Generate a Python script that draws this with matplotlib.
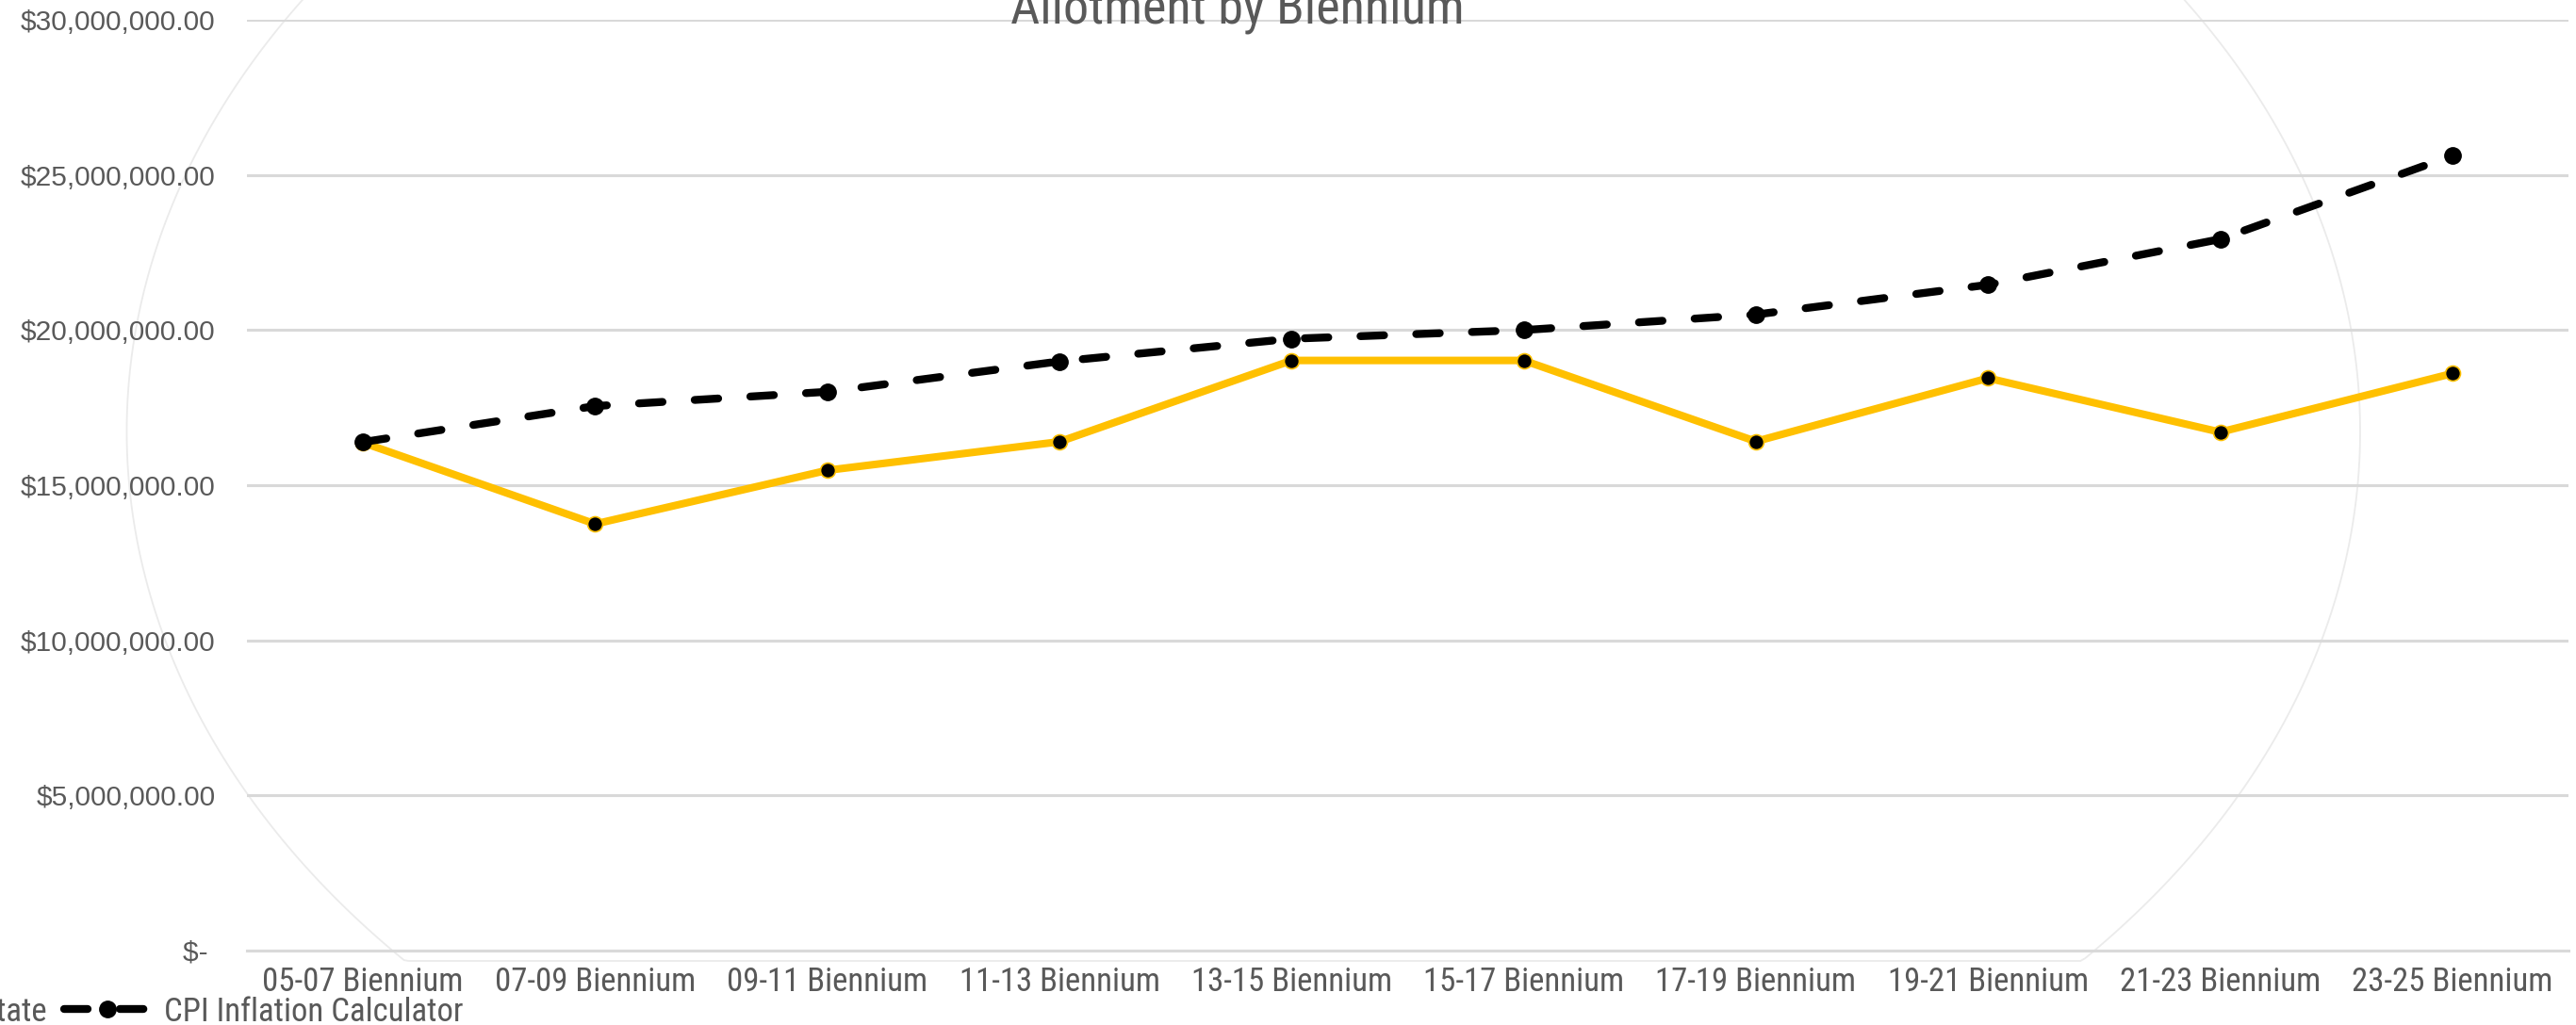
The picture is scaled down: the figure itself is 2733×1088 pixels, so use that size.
import matplotlib
matplotlib.use("Agg")
import matplotlib.pyplot as plt
import numpy as np
from matplotlib import font_manager
from matplotlib.font_manager import FontProperties
from matplotlib.patches import Polygon
from matplotlib.ticker import FuncFormatter, MultipleLocator

# data
bienniums = ["05-07 Biennium", "07-09 Biennium", "09-11 Biennium", "11-13 Biennium", "13-15 Biennium",
             "15-17 Biennium", "17-19 Biennium", "19-21 Biennium", "21-23 Biennium", "23-25 Biennium"]
state_allotment = [16.37e6, 13.75e6, 15.48e6, 16.40e6, 19.02e6, 19.02e6, 16.41e6, 18.45e6, 16.71e6, 18.60e6]
cpi_adjusted = [16.39e6, 17.55e6, 18.01e6, 18.99e6, 19.72e6, 20.00e6, 20.50e6, 21.46e6, 22.93e6, 25.62e6]
series_labels = ["State", "CPI Inflation Calculator"]
title = "Allotment by Biennium"

GOLD = "#FFC000"
TEXT = "#595959"
GRID = "#d9d9d9"


def find_narrow_font():
    # look for any regular condensed / narrow face on the system
    files = sorted({f.fname for f in font_manager.fontManager.ttflist})
    for key in ["LiberationSansNarrow-Regular", "RobotoCondensed-Regular", "DejaVuSansCondensed.ttf",
                "OpenSans_Condensed-Regular", "Condensed-Regular", "Narrow-Regular"]:
        for fn in files:
            if key in fn.replace(" ", ""):
                return fn
    return None


narrow_file = find_narrow_font()
if narrow_file:
    narrow_prop = lambda size: FontProperties(fname=narrow_file, size=size)
    shrink = 1.0
else:
    narrow_prop = lambda size: FontProperties(family="Liberation Sans", size=size)
    shrink = 0.88

W, H = 2733, 1088
fig = plt.figure(figsize=(W / 100, H / 100), dpi=100)
fig.patch.set_facecolor("white")

# faint background ellipse with a flat bottom
t = np.linspace(0, 2 * np.pi, 1000)
ex = 0.4827 + 0.4335 * np.cos(t)
ey = np.maximum(0.579 + 0.782 * np.sin(t), 0.0625)
fig.add_artist(Polygon(np.column_stack([ex, ey]), closed=True, fill=False, edgecolor="#ebebeb",
                       linewidth=1.3, transform=fig.transFigure, zorder=0))

ax = fig.add_axes([262 / W, 1 - 1009 / H, 2463 / W, 988 / H])
ax.set_facecolor("none")
x = np.arange(len(bienniums))

ax.plot(x, state_allotment, color=GOLD, linewidth=5.8, marker="o", markersize=11.5,
        markerfacecolor="black", markeredgecolor=GOLD, markeredgewidth=1.2,
        label=series_labels[0], zorder=3, solid_joinstyle="round")
ax.plot(x, cpi_adjusted, color="black", linewidth=6, linestyle=(0, (3, 4.1)), dash_capstyle="round",
        marker="o", markersize=12.5, markerfacecolor="black", markeredgecolor="black",
        label=series_labels[1], zorder=4)

ax.set_xlim(-0.5, len(bienniums) - 0.5)
ax.set_ylim(0, 30e6)
ax.yaxis.set_major_locator(MultipleLocator(5e6))
ax.yaxis.set_major_formatter(FuncFormatter(lambda v, _: "$- " if v == 0 else f"${v:,.2f}"))
ax.set_xticks(x, bienniums)

ax.grid(axis="y", color=GRID, linewidth=2.2)
ax.set_axisbelow(True)
for side in ["top", "right", "left"]:
    ax.spines[side].set_visible(False)
ax.spines["bottom"].set_color(GRID)
ax.spines["bottom"].set_linewidth(2.2)

ax.tick_params(axis="both", length=0)
ax.tick_params(axis="y", pad=24, labelcolor=TEXT)
ax.tick_params(axis="x", pad=12, labelcolor=TEXT)
for lab in ax.get_yticklabels():
    lab.set_fontfamily("Liberation Sans")
    lab.set_fontsize(21.5)
for lab in ax.get_xticklabels():
    lab.set_fontproperties(narrow_prop(25 * shrink))

fig.text(0.4803, 1 - 24 / H, title, ha="center", va="baseline", color=TEXT,
         fontproperties=narrow_prop(42 * shrink * 0.93))

leg = fig.legend(loc="center right", bbox_to_anchor=(491 / W, 1 - 1074 / H), ncol=2, frameon=False,
                 borderpad=0, borderaxespad=0, handlelength=2.7, handletextpad=0.35, columnspacing=0.5,
                 prop=narrow_prop(25 * shrink))
for txt in leg.get_texts():
    txt.set_color(TEXT)

fig.savefig("out.png", dpi=100)
plt.close(fig)
